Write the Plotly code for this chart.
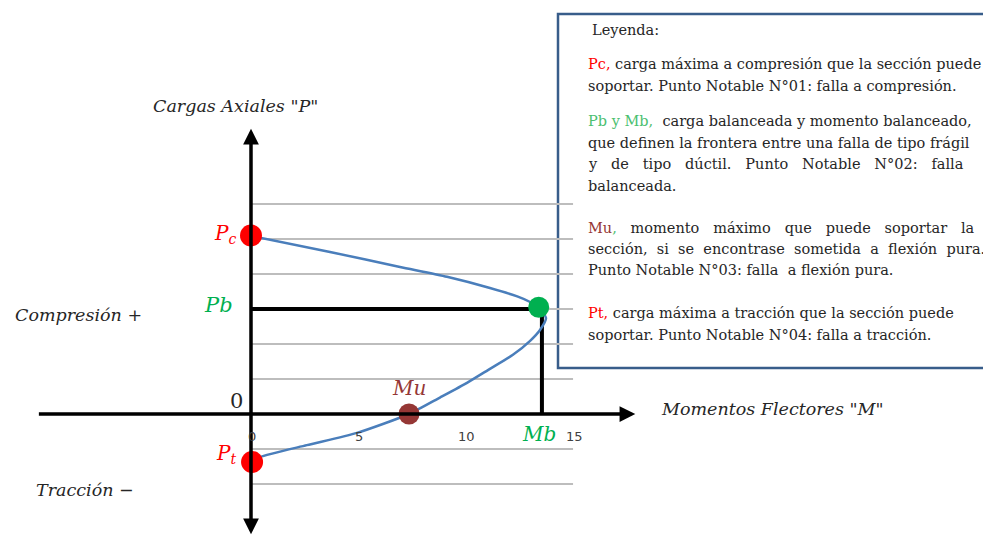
import plotly.graph_objects as go

m_curva = [0, 3.68, 6.94, 9.13, 11.13, 12.4, 13.0, 13.37, 13.74, 13.46, 13.0, 12.2, 11.13, 10.06, 8.8, 7.36, 4.94, 2.6, 0.42, 0.05]
p_curva = [5.09, 4.63, 4.2, 3.92, 3.6, 3.36, 3.2, 3.06, 2.74, 2.4, 2.09, 1.69, 1.29, 0.89, 0.47, 0, -0.54, -0.89, -1.23, -1.37]

# puntos notables
pc = [0, 5.1]
pb = [13.4, 3.05]
mu = [7.36, 0]
pt = [0.05, -1.37]

# lineas de balance
p_bal = 3.0
m_bal = 13.55

# rejilla y ticks
p_rejilla = [-2, -1, 1, 2, 3, 4, 5, 6]
m_rejilla = [0, 15]
ticks_m = [0, 5, 10, 15]
ticks_txt = ["0", "5", "10", "15"]

# la pagina tiene 8px de margen en el body
OFF = 8
W, H = 991 - OFF, 537 - OFF
X0, Y0 = 251 - OFF, 414 - OFF   # origen en pixeles de la figura
SX, SY = 21.47, 35.0            # pixeles por unidad

def px(x):
    return (x - OFF) / W

def py(y):
    return 1 - (y - OFF) / H

fig = go.Figure()

# rejilla gris
gx, gy = [], []
for p in p_rejilla:
    gx += [m_rejilla[0], m_rejilla[1], None]
    gy += [p, p, None]
fig.add_trace(go.Scatter(x=gx, y=gy, mode="lines", line=dict(color="#bdbdbd", width=2), hoverinfo="skip"))

# lineas Pb / Mb
fig.add_trace(go.Scatter(x=[0, m_bal, m_bal], y=[p_bal, p_bal, 0], mode="lines",
                         line=dict(color="black", width=4), hoverinfo="skip"))

# curva
fig.add_trace(go.Scatter(x=m_curva, y=p_curva, mode="lines",
                         line=dict(color="#4a7ebb", width=2.5, shape="spline", smoothing=0.6)))

# ejes con flechas
fig.add_annotation(x=0, y=8.15, ax=0, ay=-3.48, xref="x", yref="y", axref="x", ayref="y",
                   showarrow=True, arrowhead=2, startarrowhead=2, arrowside="end+start",
                   arrowwidth=3.5, arrowsize=0.9, startarrowsize=0.9, arrowcolor="black", text="")
fig.add_annotation(x=17.9, y=0, ax=-9.95, ay=0, xref="x", yref="y", axref="x", ayref="y",
                   showarrow=True, arrowhead=2, arrowwidth=3.5, arrowsize=0.9,
                   arrowcolor="black", text="")

# puntos notables
fig.add_trace(go.Scatter(x=[pc[0], pt[0]], y=[pc[1], pt[1]], mode="markers",
                         marker=dict(color="#ff0000", size=22)))
fig.add_trace(go.Scatter(x=[pb[0]], y=[pb[1]], mode="markers", marker=dict(color="#00b050", size=21)))
fig.add_trace(go.Scatter(x=[mu[0]], y=[mu[1]], mode="markers", marker=dict(color="#953735", size=21)))

# etiquetas de ticks
for v, t in zip(ticks_m, ticks_txt):
    fig.add_annotation(x=v, y=0, xref="x", yref="y", text=t, showarrow=False, yshift=-22, xshift=1,
                       font=dict(family="DejaVu Sans", size=13, color="#404040"))

serif = "DejaVu Serif"
fig.add_annotation(x=pc[0], y=pc[1], xref="x", yref="y", text="<i>P<sub>c</sub></i>", showarrow=False,
                   xanchor="right", xshift=-13, yshift=2, font=dict(family=serif, size=20, color="#ff0000"))
fig.add_annotation(x=0, y=p_bal, xref="x", yref="y", text="<i>Pb</i>", showarrow=False,
                   xanchor="right", xshift=-16, yshift=4, font=dict(family=serif, size=21, color="#00b050"))
fig.add_annotation(x=mu[0], y=mu[1], xref="x", yref="y", text="<i>Mu</i>", showarrow=False,
                   yshift=26, font=dict(family=serif, size=20, color="#953735"))
fig.add_annotation(x=m_bal, y=0, xref="x", yref="y", text="<i>Mb</i>", showarrow=False,
                   xshift=-3, yshift=-20, font=dict(family=serif, size=20, color="#00b050"))
fig.add_annotation(x=pt[0], y=pt[1], xref="x", yref="y", text="<i>P<sub>t</sub></i>", showarrow=False,
                   xanchor="right", xshift=-14, yshift=8, font=dict(family=serif, size=20, color="#ff0000"))
fig.add_annotation(x=0, y=0, xref="x", yref="y", text="0", showarrow=False,
                   xanchor="right", xshift=-6, yshift=13, font=dict(family=serif, size=21, color="#262626"))

# titulos de ejes
etiq = dict(family=serif, size=17.5, color="#262626")
titulos = [
    (235, 106, "<i>Cargas Axiales \"P\"</i>"),
    (78, 315, "<i>Compresión +</i>"),
    (85, 490, "<i>Tracción −</i>"),
    (772, 409, "<i>Momentos Flectores \"M\"</i>"),
]
for xx, yy, txt in titulos:
    fig.add_annotation(x=px(xx), y=py(yy), xref="paper", yref="paper", text=txt, showarrow=False,
                       xanchor="center", yanchor="middle", font=etiq)

# recuadro de leyenda (debajo de la rejilla, que lo cruza un poco)
fig.add_shape(type="rect", xref="paper", yref="paper", x0=px(558), x1=px(1010), y0=py(368), y1=py(14),
              line=dict(color="#385d8a", width=2.5), fillcolor="white", layer="below")

rojo = "<span style='color:#ff0000'>{}</span>"
verde = "<span style='color:#4cc070'>{}</span>"
cafe = "<span style='color:#953735'>{}</span>"
lineas = [
    (30, "Leyenda:", 590),
    (64, rojo.format("Pc,") + " carga máxima a compresión que la sección puede", 586),
    (86, "soportar. Punto Notable N°01: falla a compresión.", 586),
    (121, verde.format("Pb y Mb,") + "  carga balanceada y momento balanceado,", 586),
    (143, "que definen la frontera entre una falla de tipo frágil", 586),
    (164, "y   de   tipo   dúctil.   Punto   Notable   N°02:   falla", 586),
    (186, "balanceada.", 586),
    (228, cafe.format("Mu") + verde.format(",") + "   momento   máximo   que   puede   soportar   la", 586),
    (249, "sección,  si  se  encontrase  sometida  a  flexión  pura.", 586),
    (270, "Punto Notable N°03: falla  a flexión pura.", 586),
    (313, rojo.format("Pt,") + " carga máxima a tracción que la sección puede", 586),
    (335, "soportar. Punto Notable N°04: falla a tracción.", 586),
]
for yy, txt, xx in lineas:
    fig.add_annotation(x=px(xx), y=py(yy), xref="paper", yref="paper", text=txt, showarrow=False,
                       xanchor="left", yanchor="middle", font=dict(family=serif, size=14.5, color="#262626"))

fig.update_layout(
    width=W, height=H,
    margin=dict(l=0, r=0, t=0, b=0),
    paper_bgcolor="white", plot_bgcolor="white",
    showlegend=False,
    xaxis=dict(range=[-X0 / SX, (W - X0) / SX], visible=False, fixedrange=True),
    yaxis=dict(range=[-(H - Y0) / SY, Y0 / SY], visible=False, fixedrange=True),
)

fig.write_html("out.html")
